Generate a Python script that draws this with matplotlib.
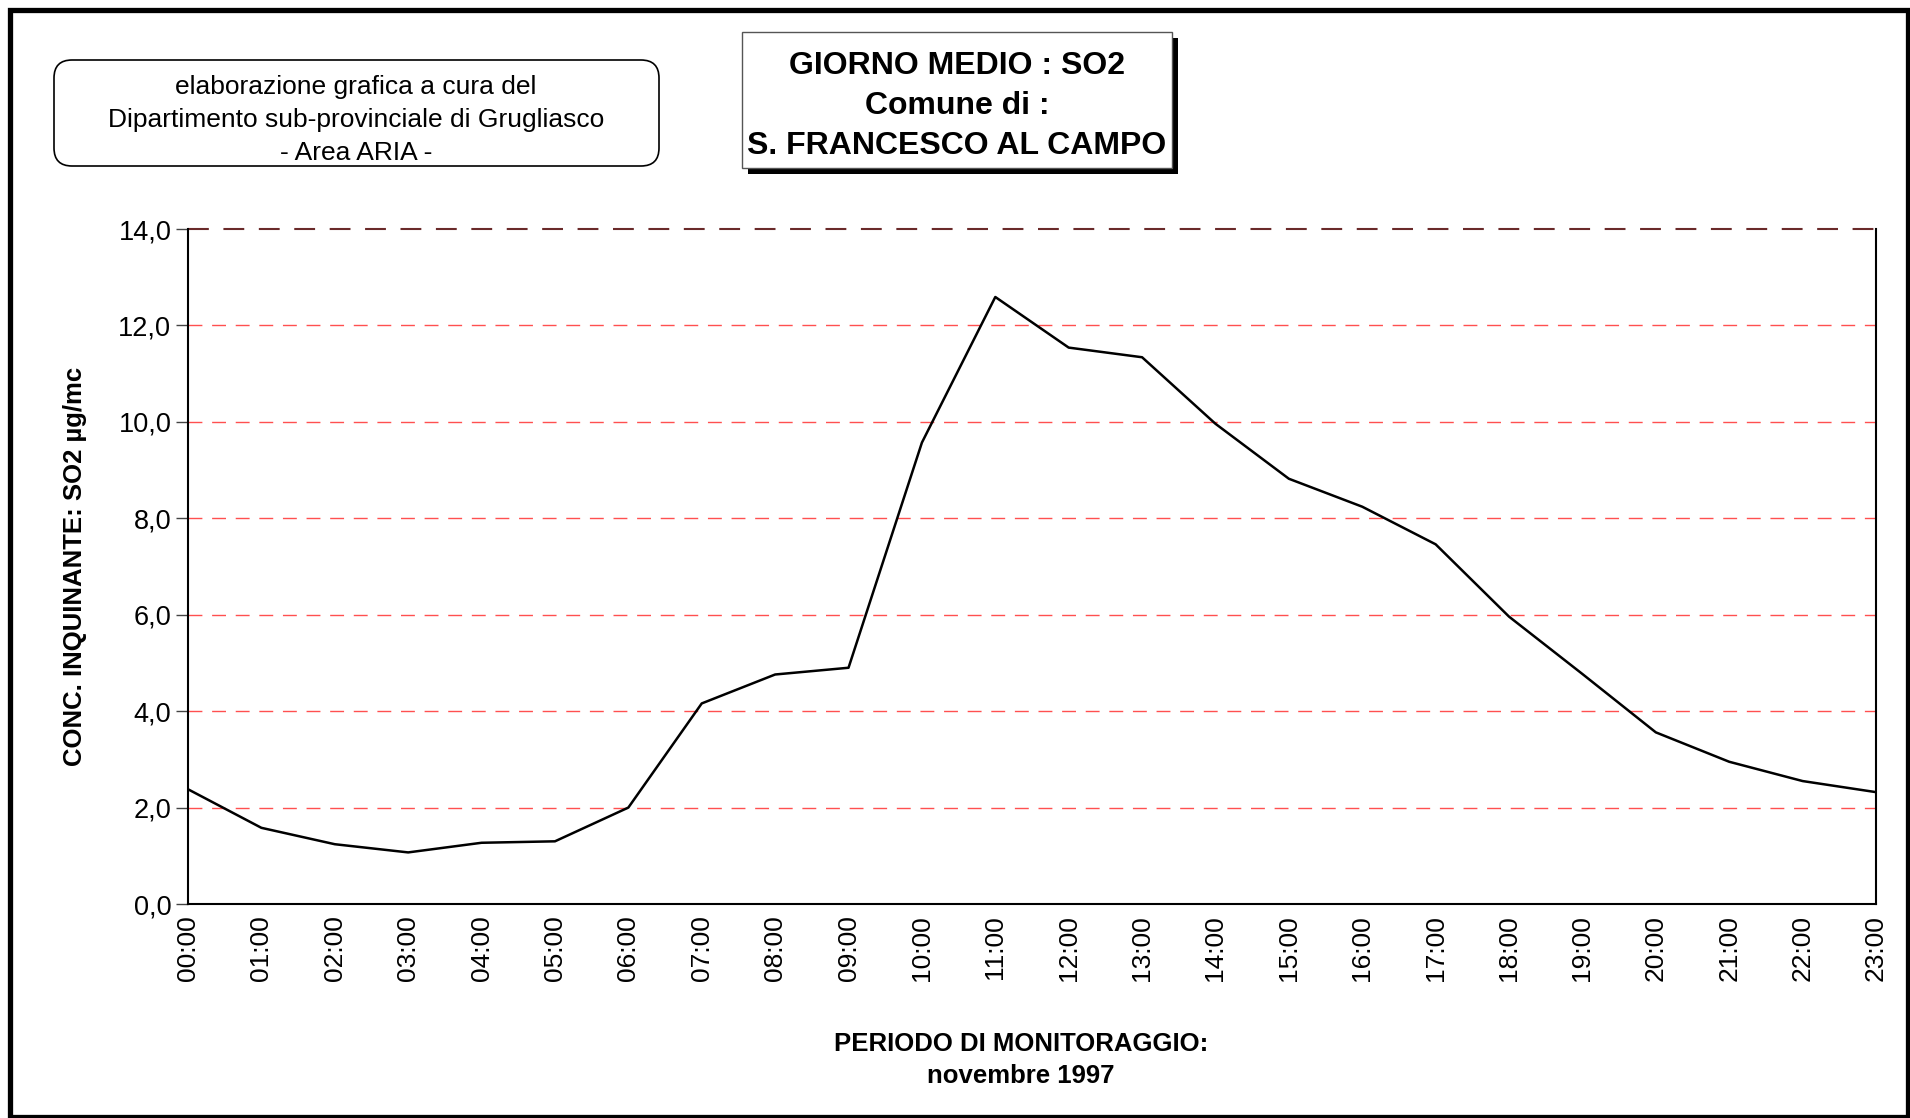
import numpy as np
import matplotlib.pyplot as plt
from matplotlib.patches import Rectangle, FancyBboxPatch

# hourly mean SO2, S. Francesco al Campo, novembre 1997
hours = ["%02d:00" % h for h in range(24)]
so2 = [2.38, 1.58, 1.24, 1.07, 1.27, 1.30, 2.00, 4.16, 4.76, 4.90,
       9.57, 12.59, 11.54, 11.34, 9.96, 8.82, 8.24, 7.46, 5.96, 4.77,
       3.56, 2.95, 2.55, 2.32]
yticks = [0, 2, 4, 6, 8, 10, 12, 14]
ytick_labels = ["%.1f" % v for v in yticks]
ytick_labels = [s.replace(".", ",") for s in ytick_labels]

title_lines = ["GIORNO MEDIO : SO2", "Comune di :", "S. FRANCESCO AL CAMPO"]
credit_lines = ["elaborazione grafica a cura del",
                "Dipartimento sub-provinciale di Grugliasco",
                "- Area ARIA -"]

plt.rcParams['font.family'] = ['Liberation Sans', 'DejaVu Sans']

W, H = 1910, 1118
fig = plt.figure(figsize=(W / 100, H / 100), dpi=100)

# overlay in pixel coords for frame and text boxes
ov = fig.add_axes([0, 0, 1, 1])
ov.set_xlim(0, W)
ov.set_ylim(H, 0)
ov.axis("off")

ov.add_patch(Rectangle((9.5, 9.5), 1898, 1107, fill=False, ec="black", lw=3.8))

# credit box
ov.add_patch(FancyBboxPatch((54, 60), 605, 106, boxstyle="round,pad=0,rounding_size=18",
                            fc="white", ec="black", lw=1.2))
for i, s in enumerate(credit_lines):
    ov.text(356, 87 + i * 33, s, ha="center", va="center", fontsize=19)

# title box with shadow
ov.add_patch(Rectangle((748, 38), 430, 136, fc="black", ec="none"))
ov.add_patch(Rectangle((742, 32), 430, 136, fc="white", ec="#555555", lw=1))
for i, s in enumerate(title_lines):
    ov.text(957, 66 + i * 40, s, ha="center", va="center", fontsize=23, fontweight="bold")

# main plot
ax = fig.add_axes([188 / W, 1 - 904 / H, (1876 - 188) / W, (904 - 229) / H])
x = np.arange(len(hours))
ax.plot(x, so2, color="black", lw=1.8, zorder=3)

ax.set_xlim(0, 23)
ax.set_ylim(0, 14)
ax.set_yticks(yticks)
ax.set_yticklabels(ytick_labels, fontsize=19.5)
ax.set_xticks(x)
ax.set_xticklabels(hours, rotation=90, fontsize=19)
ax.tick_params(axis="x", length=0, pad=8)
ax.tick_params(axis="y", length=9, width=1, color="#444444", pad=3)

for v in yticks[1:-1]:
    ax.axhline(v, color="#ff5050", lw=1, dashes=(10, 7), zorder=1)
ax.axhline(14, color="#6a2a2a", lw=1.5, dashes=(10, 7), zorder=1, clip_on=False)
ax.spines["top"].set_visible(False)
for sp in ["left", "bottom", "right"]:
    ax.spines[sp].set_linewidth(1.5)

ax.set_ylabel("CONC. INQUINANTE: SO2 µg/mc", fontsize=18.5, fontweight="bold")
ax.yaxis.set_label_coords(-0.060, 0.5)

fig.text(1021 / W, 1 - 1044 / H, "PERIODO DI MONITORAGGIO:", ha="center", va="center",
         fontsize=18.5, fontweight="bold")
fig.text(1021 / W, 1 - 1076 / H, "novembre 1997", ha="center", va="center",
         fontsize=18.5, fontweight="bold")

fig.savefig("out.png", dpi=100)
